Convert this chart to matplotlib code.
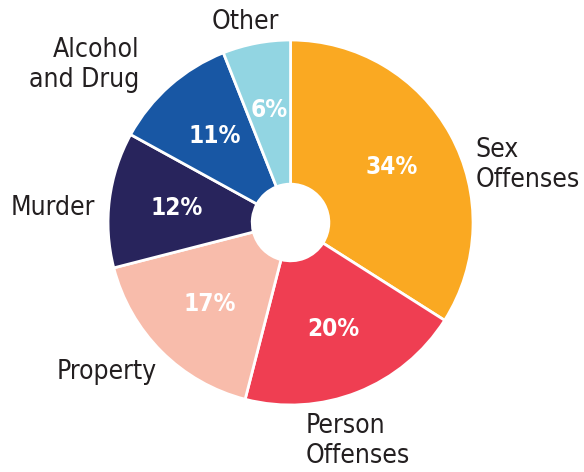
import matplotlib
matplotlib.use("Agg")
import matplotlib.pyplot as plt

categories = ["Sex\nOffenses", "Person\nOffenses", "Property", "Murder", "Alcohol\nand Drug", "Other"]
shares = [34, 20, 17, 12, 11, 6]
colors = ["#FAA922", "#EF3E52", "#F8BCAB", "#28245C", "#1857A4", "#92D5E2"]

# label anchor (x, y, ha) in pie-radius units, center at 0,0
label_pos = [(1.015, 0.315, "left"), (0.08, -1.20, "left"), (-1.005, -0.82, "center"),
             (-1.07, 0.08, "right"), (-0.83, 0.865, "right"), (-0.25, 1.10, "center")]

plt.rcParams["font.family"] = ["DejaVu Sans"]

fig = plt.figure(figsize=(5.84, 4.72), dpi=100)
ax = fig.add_axes([0, 0, 1, 1])

wedges, texts, autotexts = ax.pie(
    shares, colors=colors, startangle=90, counterclock=False, radius=1,
    autopct="%d%%", pctdistance=0.63,
    wedgeprops=dict(width=0.79, edgecolor="white", linewidth=2),
    textprops=dict(color="white", fontsize=17.5, fontweight="bold", fontstretch="condensed"),
)

for (x, y, ha), name in zip(label_pos, categories):
    ax.text(x, y, name, ha=ha, va="center", fontsize=19, color="#231F20",
            fontstretch="condensed", linespacing=1.2, multialignment=ha)

ax.set_xlim(-1.592, 1.608)
ax.set_ylim(-1.367, 1.219)
ax.set_aspect("equal")
ax.axis("off")

fig.savefig("out.png", dpi=100)
